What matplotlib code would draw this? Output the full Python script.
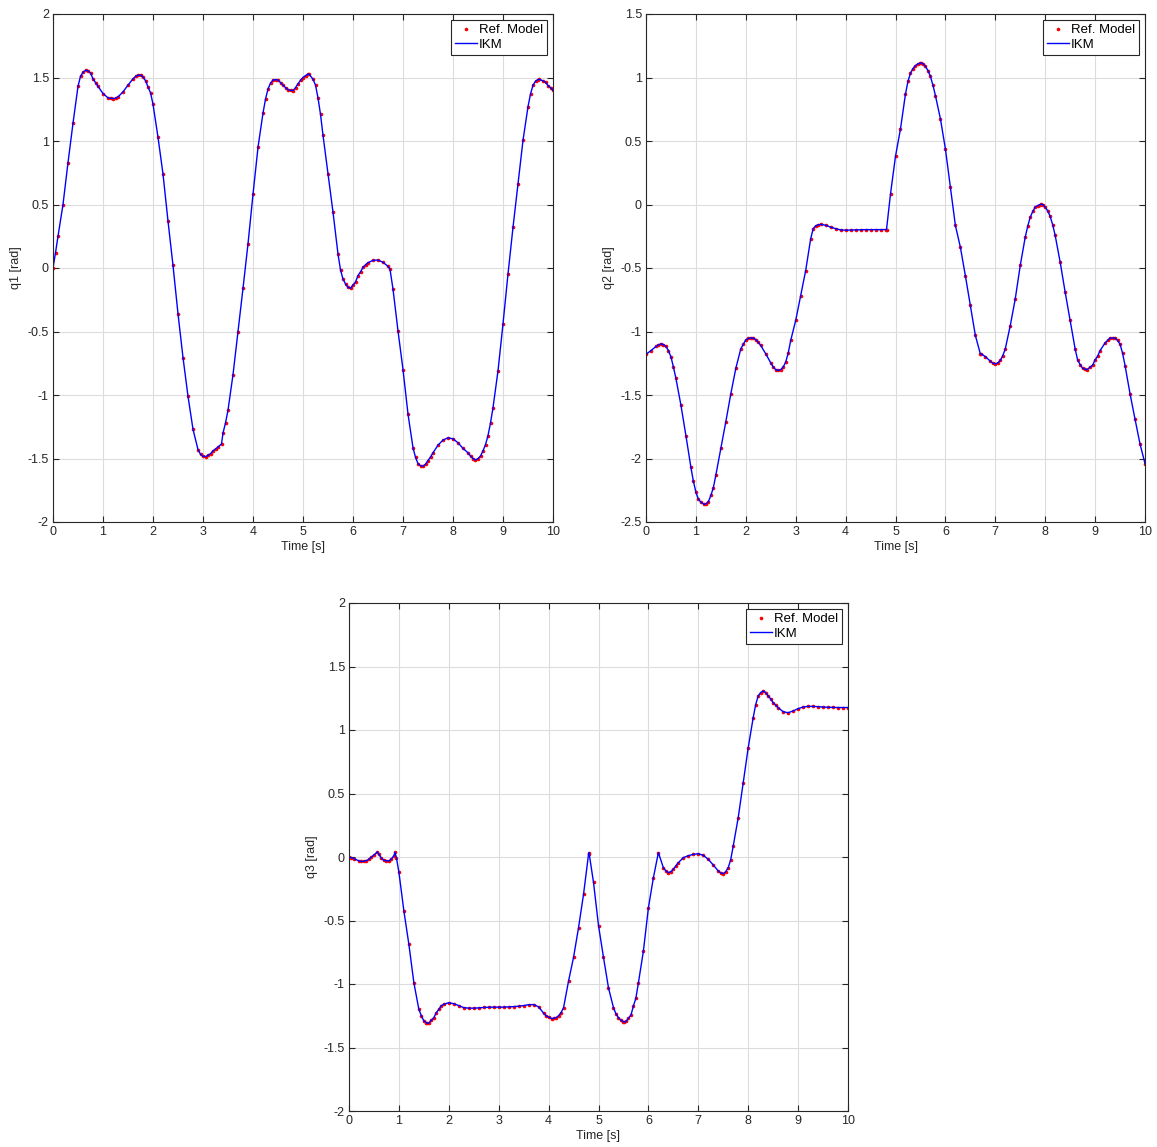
import numpy as np
import matplotlib
matplotlib.use("Agg")
import matplotlib.pyplot as plt

# time grid of the readings (0.1 s steps)
time = np.round(np.arange(0, 101) * 0.1, 2)

q1 = [0.0, 0.25, 0.5, 0.83, 1.14, 1.43, 1.54, 1.553, 1.49, 1.43,
      1.374, 1.34, 1.334, 1.347, 1.387, 1.44, 1.49, 1.518, 1.505, 1.426,
      1.29, 1.03, 0.74, 0.37, 0.02, -0.36, -0.705, -1.01, -1.27, -1.43,
      -1.482, -1.475, -1.44, -1.41, -1.3, -1.12, -0.84, -0.5, -0.16, 0.19,
      0.58, 0.95, 1.22, 1.41, 1.48, 1.48, 1.44, 1.405, 1.397, 1.45,
      1.5, 1.526, 1.487, 1.34, 1.045, 0.74, 0.44, 0.11, -0.087, -0.153,
      -0.134, -0.06, 0.005, 0.042, 0.06, 0.063, 0.045, 0.013, -0.166, -0.495,
      -0.8, -1.15, -1.415, -1.54, -1.56, -1.516, -1.455, -1.395, -1.355, -1.337,
      -1.345, -1.376, -1.42, -1.455, -1.5, -1.5, -1.44, -1.32, -1.1, -0.81,
      -0.44, -0.047, 0.32, 0.66, 1.005, 1.27, 1.44, 1.484, 1.474, 1.437,
      1.4]
# extra readings at peaks, troughs and kinks
q1_extra_t = [0.05, 0.55, 0.65, 0.75, 0.85, 1.15, 1.25, 1.65, 1.75, 1.85,
              1.95, 2.95, 3.05, 3.15, 3.25, 3.37, 3.45, 4.25, 4.35, 4.45,
              4.55, 4.65, 4.75, 4.85, 4.95, 5.05, 5.12, 5.25, 5.35, 5.75,
              5.85, 5.95, 6.05, 6.15, 6.25, 6.74, 7.25, 7.35, 7.45, 7.55,
              8.35, 8.45, 8.55, 8.65, 8.75, 9.55, 9.65, 9.72, 9.85, 9.95]
q1_extra = [0.12, 1.51, 1.557, 1.535, 1.46, 1.336, 1.338, 1.508, 1.52, 1.475,
            1.38, -1.467, -1.485, -1.462, -1.425, -1.385, -1.22, 1.33, 1.455, 1.483,
            1.46, 1.42, 1.398, 1.42, 1.478, 1.515, 1.527, 1.44, 1.21, -0.015,
            -0.125, -0.16, -0.11, -0.03, 0.025, -0.01, -1.49, -1.557, -1.545, -1.488,
            -1.48, -1.512, -1.48, -1.39, -1.22, 1.37, 1.47, 1.486, 1.462, 1.42]

q2 = [-1.18, -1.15, -1.118, -1.097, -1.118, -1.2, -1.37, -1.58, -1.82, -2.07,
      -2.265, -2.344, -2.357, -2.29, -2.13, -1.92, -1.71, -1.49, -1.29, -1.136,
      -1.066, -1.05, -1.063, -1.11, -1.176, -1.247, -1.3, -1.3, -1.24, -1.07,
      -0.913, -0.717, -0.52, -0.27, -0.168, -0.157, -0.163, -0.178, -0.19, -0.2,
      -0.202, -0.201, -0.2, -0.199, -0.198, -0.198, -0.198, -0.198, -0.197, 0.084,
      0.38, 0.596, 0.87, 1.034, 1.094, 1.113, 1.087, 1.008, 0.858, 0.675,
      0.438, 0.136, -0.165, -0.336, -0.56, -0.795, -1.03, -1.176, -1.197, -1.234,
      -1.255, -1.228, -1.137, -0.953, -0.743, -0.48, -0.257, -0.1, -0.02, 0.0,
      -0.02, -0.094, -0.244, -0.454, -0.69, -0.913, -1.137, -1.26, -1.297, -1.28,
      -1.223, -1.15, -1.09, -1.052, -1.052, -1.1, -1.268, -1.49, -1.69, -1.885,
      -2.04]
q2_extra_t = [0.25, 0.35, 0.45, 0.55, 0.95, 1.05, 1.17, 1.25, 1.35, 1.95,
              2.05, 2.15, 2.25, 2.55, 2.65, 2.75, 2.85, 3.35, 3.45, 4.82,
              5.25, 5.35, 5.45, 5.52, 5.55, 5.65, 5.75, 6.72, 6.95, 7.05,
              7.15, 7.65, 7.75, 7.85, 7.92, 7.95, 8.05, 8.15, 8.65, 8.75,
              8.83, 8.95, 9.05, 9.25, 9.36, 9.45, 9.55]
q2_extra = [-1.105, -1.103, -1.15, -1.28, -2.18, -2.32, -2.362, -2.34, -2.23, -1.1,
            -1.055, -1.052, -1.085, -1.28, -1.307, -1.28, -1.17, -0.19, -0.16, -0.197,
            0.97, 1.07, 1.108, 1.115, 1.11, 1.055, 0.94, -1.177, -1.25, -1.247,
            -1.19, -0.17, -0.055, -0.008, 0.002, 0.0, -0.05, -0.16, -1.225, -1.29,
            -1.302, -1.265, -1.195, -1.07, -1.05, -1.07, -1.17]

q3 = [0.0, -0.013, -0.031, -0.034, -0.018, 0.016, 0.02, -0.026, -0.031, 0.01,
      -0.12, -0.425, -0.688, -0.99, -1.2, -1.29, -1.307, -1.265, -1.2, -1.16,
      -1.147, -1.155, -1.17, -1.186, -1.19, -1.19, -1.188, -1.185, -1.183, -1.182,
      -1.182, -1.182, -1.18, -1.178, -1.175, -1.17, -1.163, -1.162, -1.18, -1.23,
      -1.26, -1.27, -1.25, -1.186, -0.976, -0.79, -0.556, -0.294, 0.02, -0.2,
      -0.54, -0.79, -1.03, -1.186, -1.265, -1.297, -1.27, -1.173, -0.99, -0.74,
      -0.4, -0.163, 0.034, -0.084, -0.123, -0.097, -0.045, -0.005, 0.01, 0.021,
      0.026, 0.013, -0.018, -0.063, -0.11, -0.131, -0.084, 0.087, 0.31, 0.585,
      0.86, 1.097, 1.268, 1.307, 1.268, 1.215, 1.176, 1.144, 1.136, 1.15,
      1.168, 1.181, 1.186, 1.186, 1.184, 1.181, 1.179, 1.178, 1.177, 1.177,
      1.177]
q3_extra_t = [0.05, 0.25, 0.35, 0.45, 0.57, 0.65, 0.75, 0.85, 0.92, 0.95,
              1.45, 1.55, 1.57, 1.65, 1.75, 1.85, 3.95, 4.07, 4.15, 4.25,
              4.81, 5.35, 5.45, 5.52, 5.55, 5.65, 5.75, 6.35, 6.45, 6.55,
              7.45, 7.55, 7.65, 8.15, 8.25, 8.35, 8.45, 8.55]
q3_extra = [-0.005, -0.035, -0.028, 0.0, 0.04, -0.01, -0.03, -0.015, 0.037, -0.005,
            -1.25, -1.305, -1.31, -1.285, -1.225, -1.17, -1.25, -1.273, -1.265, -1.225,
            0.034, -1.235, -1.285, -1.3, -1.295, -1.245, -1.11, -0.11, -0.115, -0.07,
            -0.125, -0.115, -0.02, 1.2, 1.295, 1.295, 1.245, 1.195]

ylims = [(-2, 2), (-2.5, 1.5), (-2, 2)]
ylabels = ["q1 [rad]", "q2 [rad]", "q3 [rad]"]


def merged(q, et, eq):
    t_all = np.concatenate([time, et])
    q_all = np.concatenate([np.array(q), np.array(eq)])
    order = np.argsort(t_all)
    return t_all[order], q_all[order]


plt.rcParams["font.family"] = ["Liberation Sans", "DejaVu Sans"]
plt.rcParams["font.size"] = 9

fig = plt.figure(figsize=(11.57, 11.47), dpi=100)
positions = [
    [53 / 1157, 1 - 522 / 1147, 500 / 1157, 508 / 1147],
    [646 / 1157, 1 - 522 / 1147, 499 / 1157, 508 / 1147],
    [349 / 1157, 1 - 1111 / 1147, 499 / 1157, 508 / 1147],
]
series = [(q1, q1_extra_t, q1_extra), (q2, q2_extra_t, q2_extra), (q3, q3_extra_t, q3_extra)]

for i in range(3):
    ax = fig.add_axes(positions[i])
    tt, qq = merged(*series[i])
    ax.plot(tt, qq, linestyle="none", marker=".", color="red", markersize=3.2, label="Ref. Model")
    ax.plot(tt, qq, color="blue", linewidth=1.0, label="IKM")
    ax.set_xlim(0, 10)
    ax.set_ylim(*ylims[i])
    ticks = np.arange(ylims[i][0], ylims[i][1] + 0.01, 0.5)
    ax.set_xticks(range(0, 11))
    ax.set_yticks(ticks)
    ax.set_yticklabels(["%g" % v for v in ticks])
    ax.grid(True, color="#dcdcdc", linewidth=0.8)
    ax.tick_params(direction="in", top=True, right=True, length=4, width=0.8,
                   labelsize=9, colors="#262626", pad=3)
    for s in ax.spines.values():
        s.set_color("#262626")
        s.set_linewidth(0.8)
    ax.set_xlabel("Time [s]", fontsize=9, color="#262626", labelpad=2)
    ax.set_ylabel(ylabels[i], fontsize=9, color="#262626", labelpad=4)
    leg = ax.legend(loc="upper right", fontsize=9.5, frameon=True, fancybox=False,
                    borderaxespad=0.45, handlelength=1.7, handletextpad=0.15,
                    borderpad=0.3, labelspacing=0.2, framealpha=1)
    leg.get_frame().set_edgecolor("#262626")
    leg.get_frame().set_linewidth(0.8)

fig.savefig("out.png", dpi=100)
